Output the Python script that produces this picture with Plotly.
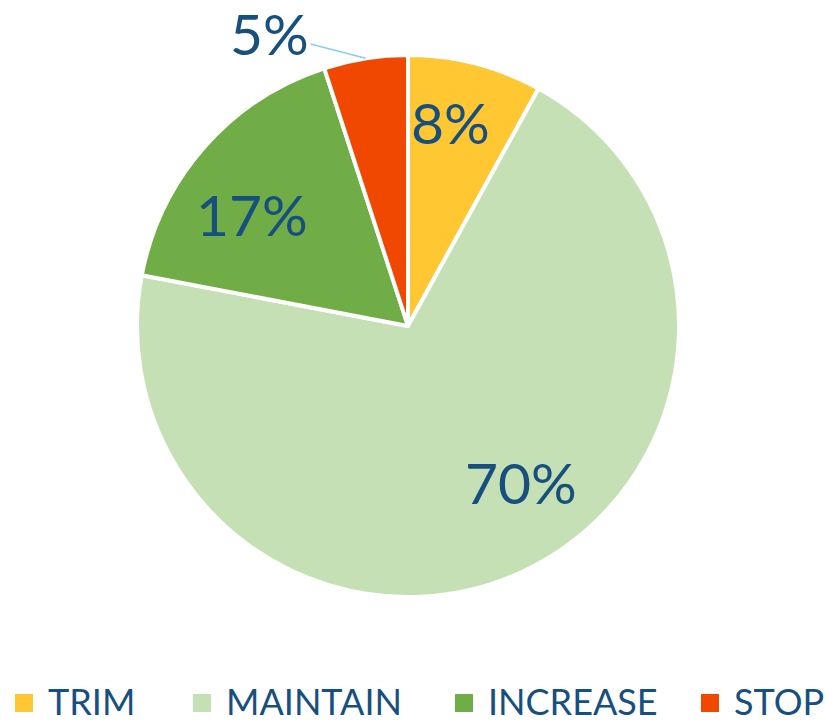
import math
import plotly.graph_objects as go

# Share of responses per action
categories = ["TRIM", "MAINTAIN", "INCREASE", "STOP"]
values = [8, 70, 17, 5]
colors = ["#FFC832", "#C5E0B4", "#70AD47", "#F04800"]
label_inside = [True, True, True, False]

W, H = 825, 724
CX, CY, R = 408, 326, 271  # pie centre and radius in pixels
TEXT_COLOR = "#17507F"
FONT = "Lato, Open Sans, sans-serif"

# label placement tweaks: angular nudge (deg) and radius fraction per slice
label_nudge = [-2.6, -10.8, -5.7, 0.0]
label_radius = [0.77, 0.71, 0.71, 1.0]

# legend layout (left edge of each swatch, px)
legend_x = [15, 193, 455, 701]
LEGEND_Y = 701
SWATCH = 18


def px_to_paper(px, py):
    return px / W, 1 - py / H


x0, y1 = px_to_paper(CX - R, CY - R)
x1, y0 = px_to_paper(CX + R, CY + R)

fig = go.Figure(
    go.Pie(
        labels=categories,
        values=values,
        sort=False,
        direction="clockwise",
        rotation=0,
        marker=dict(colors=colors, line=dict(color="white", width=4)),
        textinfo="none",
        hoverinfo="label+percent",
        showlegend=False,
        domain=dict(x=[x0, x1], y=[y0, y1]),
    )
)

# Percentage labels around each slice's mid angle
total = sum(values)
cum = 0
annotations = []
for cat, v, inside, nudge, rf in zip(categories, values, label_inside, label_nudge, label_radius):
    mid_deg = (cum + v / 2) / total * 360
    cum += v
    text = f"{round(100 * v / total)}%"
    ang = math.radians(mid_deg + nudge)
    if inside:
        r = rf * R
        lx, ly = px_to_paper(CX + r * math.sin(ang), CY - r * math.cos(ang))
        annotations.append(dict(x=lx, y=ly, xref="paper", yref="paper",
                                text=text, showarrow=False,
                                xanchor="center", yanchor="middle",
                                font=dict(size=57, color=TEXT_COLOR, family=FONT)))
    else:
        ex, ey = px_to_paper(CX + R * math.sin(ang), CY - R * math.cos(ang))
        annotations.append(dict(x=ex, y=ey, xref="paper", yref="paper",
                                text=text, showarrow=True, arrowhead=0,
                                arrowcolor="#8CCBF0", arrowwidth=1.5,
                                ax=-96, ay=-25, xanchor="center", yanchor="middle",
                                font=dict(size=57, color=TEXT_COLOR, family=FONT)))

# Legend: coloured swatches with category names
shapes = []
for cat, col, lx in zip(categories, colors, legend_x):
    sx0, sy1 = px_to_paper(lx, LEGEND_Y + 2 - SWATCH / 2)
    sx1, sy0 = px_to_paper(lx + SWATCH, LEGEND_Y + 2 + SWATCH / 2)
    shapes.append(dict(type="rect", xref="paper", yref="paper",
                       x0=sx0, x1=sx1, y0=sy0, y1=sy1,
                       fillcolor=col, line=dict(width=0)))
    tx, ty = px_to_paper(lx + SWATCH + 13, LEGEND_Y)
    annotations.append(dict(x=tx, y=ty, xref="paper", yref="paper",
                            text=cat, showarrow=False, xanchor="left", yanchor="middle",
                            font=dict(size=36, color=TEXT_COLOR, family=FONT)))

fig.update_layout(
    width=W,
    height=H,
    margin=dict(l=0, r=0, t=0, b=0),
    paper_bgcolor="white",
    plot_bgcolor="white",
    annotations=annotations,
    shapes=shapes,
    showlegend=False,
)

fig.write_html("out.html")
